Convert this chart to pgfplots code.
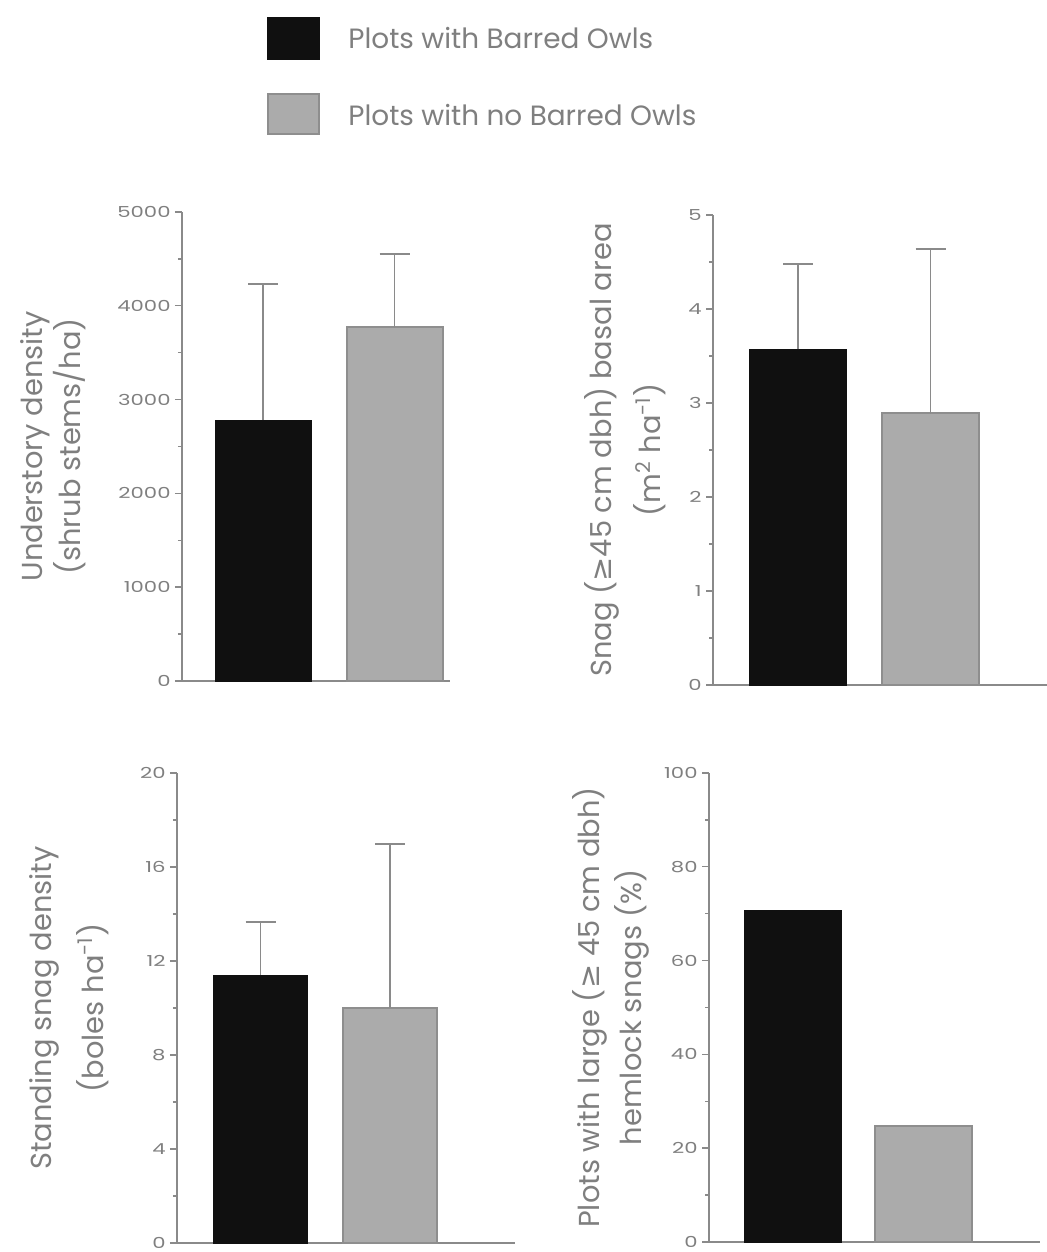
\documentclass[border=0pt]{standalone}
\usepackage{pgfplots}
\pgfplotsset{compat=1.18}
\usepackage{fontspec}
\setmainfont{Poppins}
\newfontfamily\symfont{DejaVu Sans}
\usepackage{graphicx}
\definecolor{txt}{HTML}{7F7F7F}
\definecolor{axc}{HTML}{8A8A8A}
\definecolor{barblack}{HTML}{101010}
\definecolor{bargray}{HTML}{ABABAB}
\definecolor{bargrayedge}{HTML}{8E8E8E}
\pgfplotsset{
 panel/.style={
  scale only axis,
  axis x line*=bottom, axis y line*=left,
  axis line style={axc, line width=0.7bp, -},
  xtick=\empty,
  ymin=0,
  tick align=outside,
  major tick length=3.5bp, minor tick length=2bp,
  every tick/.style={axc, line width=0.7bp},
  minor y tick num=1,
  /pgf/number format/assume math mode=true,
  /pgf/number format/1000 sep={},
  yticklabel style={text=txt, font=\fontsize{7.6}{7.6}\selectfont, inner xsep=2bp},
  yticklabel={\scalebox{1.4}[1]{\pgfmathprintnumber{\tick}}},
  ylabel style={text=txt, font=\fontsize{14.5}{19}\selectfont, align=center, anchor=center},
  clip=false,
 },
 bk/.style={ybar, bar shift=0pt, fill=barblack, draw=barblack, bar width=0.73,
   error bars/.cd, y dir=plus, y explicit, error bar style={axc, line width=0.9bp},
   error mark options={rotate=90, axc, mark size=7.5bp, line width=0.9bp}},
 gy/.style={ybar, bar shift=0pt, fill=bargray, draw=bargrayedge, line width=1bp, bar width=0.73,
   error bars/.cd, y dir=plus, y explicit, error bar style={axc, line width=0.9bp},
   error mark options={rotate=90, axc, mark size=7.5bp, line width=0.9bp}},
}
\begin{document}
\begin{tikzpicture}
\path[use as bounding box] (0,0) rectangle (523.5bp,626bp);
% legend
\fill[barblack] (133.5bp,596bp) rectangle (160bp,617.5bp);
\filldraw[fill=bargray, draw=bargrayedge, line width=1bp] (134bp,559bp) rectangle (159.5bp,579bp);
\node[anchor=west, text=txt, font=\fontsize{14}{14}\selectfont, inner sep=0] at (174bp,607bp) {Plots with Barred Owls};
\node[anchor=west, text=txt, font=\fontsize{14}{14}\selectfont, inner sep=0] at (174bp,568.5bp) {Plots with no Barred Owls};

% panel 1
\begin{axis}[panel, at={(91bp,285.5bp)}, anchor=south west, width=134bp, height=234.5bp,
  xmin=0.384, xmax=2.422, ymax=5000, ytick={0,1000,...,5000},
  ylabel={Understory density\\(shrub stems/ha)},
  ylabel style={at={(axis description cs:-0.481,0.5)}}]
\addplot[bk] coordinates {(1,2780) +- (0,1450)};
\addplot[gy] coordinates {(2,3770) +- (0,780)};
\end{axis}

% panel 2
\begin{axis}[panel, at={(356.5bp,283.5bp)}, anchor=south west, width=167bp, height=235bp,
  xmin=0.358, xmax=2.879, ymax=5, ytick={0,1,...,5},
  ylabel={Snag ({\symfont ≥}45 cm dbh) basal area\\[6bp](m\textsuperscript{2} ha\textsuperscript{-1})},
  ylabel style={at={(axis description cs:-0.263,0.5)}}]
\addplot[bk] coordinates {(1,3.57) +- (0,0.91)};
\addplot[gy] coordinates {(2,2.89) +- (0,1.75)};
\end{axis}

% panel 3
\begin{axis}[panel, at={(88.5bp,4.5bp)}, anchor=south west, width=169bp, height=235bp,
  xmin=0.355, xmax=2.965, ymax=20, ytick={0,4,...,20},
  ylabel={Standing snag density\\[7bp](boles ha\textsuperscript{-1})},
  ylabel style={at={(axis description cs:-0.320,0.5)}}]
\addplot[bk] coordinates {(1,11.4) +- (0,2.26)};
\addplot[gy] coordinates {(2,10.0) +- (0,6.98)};
\end{axis}

% panel 4
\begin{axis}[panel, at={(354.5bp,5bp)}, anchor=south west, width=165.5bp, height=234.5bp,
  xmin=0.356, xmax=2.893, ymax=100, ytick={0,20,...,100},
  ylabel={Plots with large ({\symfont ≥} 45 cm dbh)\\[2bp]hemlock snags (\%)},
  ylabel style={at={(axis description cs:-0.296,0.5)}}]
\addplot[ybar, bar shift=0pt, fill=barblack, draw=barblack, bar width=0.74] coordinates {(1,70.8)};
\addplot[ybar, bar shift=0pt, fill=bargray, draw=bargrayedge, line width=1bp, bar width=0.74] coordinates {(2,24.7)};
\end{axis}
\end{tikzpicture}
\end{document}
